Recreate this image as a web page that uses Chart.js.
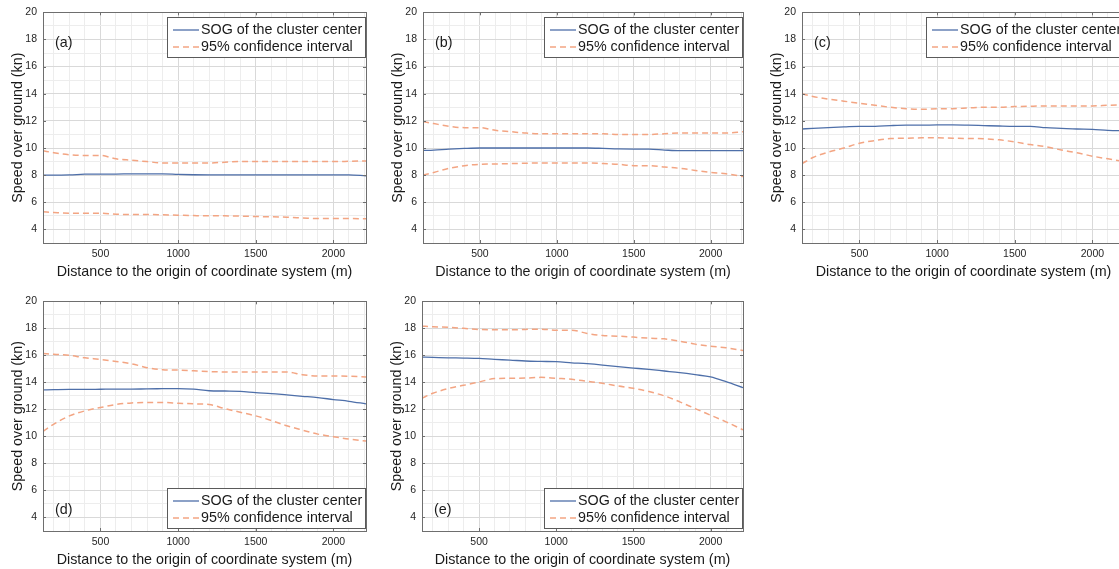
<!DOCTYPE html>
<html>
<head>
<meta charset="utf-8">
<script src="https://cdn.jsdelivr.net/npm/chart.js@4.4.1/dist/chart.umd.min.js"></script>
<style>
html, body { margin: 0; padding: 0; background: #fff; overflow: hidden; }
body { width: 1119px; height: 569px; position: relative; }
canvas.panel { position: absolute; }
</style>
</head>
<body>
<script>
// distance to origin (m), shared by all panels
const distance = [130, 200, 300, 400, 500, 600, 700, 800, 900, 1000, 1100,
                  1200, 1300, 1400, 1500, 1600, 1700, 1800, 1900, 2000, 2100, 2210];

// (a)
const sogA   = [8.0, 8.0, 8.02, 8.07, 8.08, 8.08, 8.1, 8.1, 8.1, 8.06, 8.03, 8.02, 8.02, 8.02, 8.02, 8.02, 8.02, 8.02, 8.02, 8.02, 8.02, 7.95];
const upperA = [9.8, 9.65, 9.5, 9.45, 9.45, 9.2, 9.1, 9.0, 8.9, 8.9, 8.9, 8.9, 8.95, 9.0, 9.0, 9.0, 9.0, 9.0, 9.0, 9.0, 9.02, 9.05];
const lowerA = [5.3, 5.25, 5.2, 5.2, 5.2, 5.12, 5.1, 5.1, 5.08, 5.05, 5.02, 5.0, 5.0, 4.98, 4.95, 4.93, 4.9, 4.85, 4.8, 4.8, 4.8, 4.78];
// (b)
const sogB   = [9.82, 9.85, 9.92, 9.97, 10.0, 10.0, 10.0, 10.0, 10.0, 10.0, 10.0, 10.0, 9.97, 9.93, 9.92, 9.92, 9.85, 9.8, 9.8, 9.8, 9.8, 9.8];
const upperB = [11.95, 11.8, 11.6, 11.5, 11.5, 11.3, 11.2, 11.1, 11.05, 11.05, 11.05, 11.05, 11.05, 11.0, 11.0, 11.0, 11.05, 11.1, 11.1, 11.1, 11.1, 11.2];
const lowerB = [8.0, 8.2, 8.5, 8.7, 8.8, 8.82, 8.85, 8.88, 8.9, 8.9, 8.9, 8.9, 8.85, 8.8, 8.7, 8.7, 8.6, 8.5, 8.35, 8.2, 8.1, 7.9];
// (c)
const sogC   = [11.4, 11.45, 11.5, 11.55, 11.6, 11.6, 11.65, 11.68, 11.68, 11.7, 11.7, 11.68, 11.65, 11.62, 11.6, 11.6, 11.5, 11.45, 11.4, 11.38, 11.3, 11.28];
const upperC = [14.0, 13.8, 13.6, 13.45, 13.3, 13.15, 13.0, 12.9, 12.85, 12.9, 12.9, 12.95, 13.0, 13.0, 13.05, 13.08, 13.1, 13.1, 13.1, 13.1, 13.15, 13.2];
const lowerC = [8.85, 9.3, 9.7, 10.0, 10.35, 10.55, 10.7, 10.72, 10.75, 10.75, 10.72, 10.7, 10.68, 10.6, 10.45, 10.25, 10.1, 9.85, 9.65, 9.4, 9.2, 9.0];
// (d)
const sogD   = [13.44, 13.46, 13.48, 13.48, 13.49, 13.5, 13.5, 13.52, 13.53, 13.54, 13.5, 13.38, 13.36, 13.34, 13.24, 13.17, 13.07, 12.97, 12.87, 12.73, 12.6, 12.41];
const upperD = [16.14, 16.08, 16.0, 15.82, 15.7, 15.55, 15.38, 15.09, 14.94, 14.91, 14.86, 14.8, 14.77, 14.77, 14.77, 14.77, 14.77, 14.57, 14.47, 14.47, 14.45, 14.4];
const lowerD = [10.37, 10.91, 11.52, 11.89, 12.14, 12.36, 12.48, 12.51, 12.51, 12.46, 12.41, 12.36, 12.06, 11.79, 11.52, 11.18, 10.79, 10.47, 10.17, 9.98, 9.8, 9.66];
// (e)
const sogE   = [15.87, 15.85, 15.82, 15.8, 15.77, 15.7, 15.65, 15.58, 15.55, 15.53, 15.45, 15.38, 15.28, 15.16, 15.06, 14.96, 14.84, 14.72, 14.57, 14.4, 14.05, 13.61];
const upperE = [18.16, 18.12, 18.08, 18.0, 17.91, 17.9, 17.89, 17.92, 17.94, 17.86, 17.86, 17.62, 17.47, 17.42, 17.35, 17.27, 17.22, 17.05, 16.83, 16.68, 16.56, 16.36];
const lowerE = [12.83, 13.19, 13.54, 13.78, 14.03, 14.28, 14.3, 14.32, 14.37, 14.3, 14.23, 14.08, 13.93, 13.73, 13.56, 13.32, 13.0, 12.56, 12.06, 11.57, 11.08, 10.49];

const xTickLabels = [500, 1000, 1500, 2000];
const yTickLabels = [4, 6, 8, 10, 12, 14, 16, 18, 20];
const xGridValues = [200, 300, 400, 500, 600, 700, 800, 900, 1000, 1100, 1200,
                     1300, 1400, 1500, 1600, 1700, 1800, 1900, 2000, 2100, 2200];
const yGridValues = [3, 4, 5, 6, 7, 8, 9, 10, 11, 12, 13, 14, 15, 16, 17, 18, 19, 20];

const sogLabel = 'SOG of the cluster center';
const ciLabel = '95% confidence interval';

const panels = [
  { letter: '(a)', sog: sogA, upper: upperA, lower: lowerA, legendAt: 'top' },
  { letter: '(b)', sog: sogB, upper: upperB, lower: lowerB, legendAt: 'top' },
  { letter: '(c)', sog: sogC, upper: upperC, lower: lowerC, legendAt: 'top' },
  { letter: '(d)', sog: sogD, upper: upperD, lower: lowerD, legendAt: 'bottom' },
  { letter: '(e)', sog: sogE, upper: upperE, lower: lowerE, legendAt: 'bottom' }
];

// plot-area boxes on the page
const plotBoxes = [
  { left: 43,  top: 12,  w: 323, h: 231 },
  { left: 423, top: 12,  w: 320, h: 231 },
  { left: 802, top: 12,  w: 323, h: 231 },
  { left: 43,  top: 301, w: 323, h: 230 },
  { left: 422, top: 301, w: 321, h: 230 }
];

const FONT = '"Liberation Sans", Arial, Helvetica, sans-serif';
Chart.defaults.font.family = FONT;
Chart.defaults.color = '#262626';

const blue = '#4e6fa9';
const salmon = '#f3a583';
const majorGrid = '#d9d9d9';
const minorGrid = '#ededed';

// box, inward ticks, panel letter and legend like the matlab figure
const matlabFrame = {
  id: 'matlabFrame',
  afterDatasetsDraw(chart, args, opts) {
    const { ctx, chartArea: a, scales: { x, y } } = chart;
    ctx.save();
    ctx.strokeStyle = '#6e6e6e';
    ctx.lineWidth = 1;
    ctx.beginPath();
    xTickLabels.forEach(v => {
      const px = Math.round(x.getPixelForValue(v)) + 0.5;
      ctx.moveTo(px, a.bottom); ctx.lineTo(px, a.bottom - 3);
      ctx.moveTo(px, a.top); ctx.lineTo(px, a.top + 3);
    });
    yTickLabels.forEach(v => {
      const py = Math.round(y.getPixelForValue(v)) + 0.5;
      ctx.moveTo(a.left, py); ctx.lineTo(a.left + 3, py);
      ctx.moveTo(a.right, py); ctx.lineTo(a.right - 3, py);
    });
    ctx.stroke();
    ctx.strokeRect(Math.round(a.left) + 0.5, Math.round(a.top) + 0.5, Math.round(a.width), Math.round(a.height));

    ctx.font = '14.3px ' + FONT;
    ctx.textBaseline = 'middle';
    ctx.textAlign = 'left';
    ctx.fillStyle = '#1a1a1a';
    const letterY = opts.legendAt === 'bottom' ? a.bottom - 21 : a.top + 31;
    ctx.fillText(opts.letter, a.left + 12, letterY);

    const bw = 198, bh = 40;
    const bx = Math.round(a.right - 1 - bw);
    const by = Math.round(opts.legendAt === 'bottom' ? a.bottom - 3 - bh : a.top + 5);
    ctx.fillStyle = '#fff';
    ctx.fillRect(bx, by, bw, bh);
    ctx.strokeStyle = '#5a5a5a';
    ctx.strokeRect(bx + 0.5, by + 0.5, bw, bh);
    chart.data.datasets.filter(d => d.label).forEach((d, i) => {
      const cy = by + 13 + i * 17;
      ctx.strokeStyle = d.borderColor;
      ctx.lineWidth = d.borderWidth;
      ctx.setLineDash(d.borderDash || []);
      ctx.beginPath();
      ctx.moveTo(bx + 6, cy); ctx.lineTo(bx + 32, cy);
      ctx.stroke();
      ctx.setLineDash([]);
      ctx.fillStyle = '#1a1a1a';
      ctx.fillText(d.label, bx + 34, cy);
    });
    ctx.restore();
  }
};

function toPoints(vals) {
  return distance.map((d, i) => ({ x: d, y: vals[i] }));
}

function createPanel(p, box) {
  const canvas = document.createElement('canvas');
  canvas.className = 'panel';
  canvas.width = box.w + 47;
  canvas.height = box.h + 54;
  canvas.style.left = (box.left - 43) + 'px';
  canvas.style.top = (box.top - 12) + 'px';
  document.body.appendChild(canvas);

  const lineOpts = { pointRadius: 0, cubicInterpolationMode: 'monotone', fill: false };

  new Chart(canvas.getContext('2d'), {
    type: 'line',
    data: {
      datasets: [
        { ...lineOpts, label: sogLabel, data: toPoints(p.sog), borderColor: blue, borderWidth: 1.3 },
        { ...lineOpts, label: ciLabel, data: toPoints(p.upper), borderColor: salmon, borderWidth: 1.5, borderDash: [6, 4] },
        { ...lineOpts, label: '', data: toPoints(p.lower), borderColor: salmon, borderWidth: 1.5, borderDash: [6, 4] }
      ]
    },
    options: {
      responsive: false,
      animation: false,
      layout: { padding: { top: 12, right: 4, left: 0, bottom: 0 } },
      plugins: {
        legend: { display: false },
        tooltip: { enabled: false },
        matlabFrame: { letter: p.letter, legendAt: p.legendAt }
      },
      scales: {
        x: {
          type: 'linear',
          min: 130,
          max: 2210,
          afterBuildTicks: s => { s.ticks = xGridValues.map(v => ({ value: v })); },
          afterFit: s => { s.height = 42; },
          border: { display: false },
          grid: {
            drawTicks: false,
            color: c => (c.tick && xTickLabels.includes(c.tick.value)) ? majorGrid : minorGrid
          },
          ticks: {
            autoSkip: false,
            maxRotation: 0,
            padding: 5,
            font: { size: 10.5 },
            callback: v => xTickLabels.includes(v) ? String(v) : ''
          },
          title: {
            display: true,
            text: 'Distance to the origin of coordinate system (m)',
            font: { size: 14.3 },
            color: '#1a1a1a',
            padding: { top: 0, bottom: 3.9 }
          }
        },
        y: {
          min: 3,
          max: 20,
          afterBuildTicks: s => { s.ticks = yGridValues.map(v => ({ value: v })); },
          afterFit: s => { s.width = 43; },
          border: { display: false },
          grid: {
            drawTicks: false,
            color: c => (c.tick && yTickLabels.includes(c.tick.value)) ? majorGrid : minorGrid
          },
          ticks: {
            autoSkip: false,
            padding: 6,
            font: { size: 10.5 },
            callback: v => yTickLabels.includes(v) ? String(v) : ''
          },
          title: {
            display: true,
            text: 'Speed over ground (kn)',
            font: { size: 14.3 },
            color: '#1a1a1a',
            padding: { top: 9.4, bottom: 0 }
          }
        }
      }
    },
    plugins: [matlabFrame]
  });
}

panels.forEach((p, i) => createPanel(p, plotBoxes[i]));
</script>
</body>
</html>
